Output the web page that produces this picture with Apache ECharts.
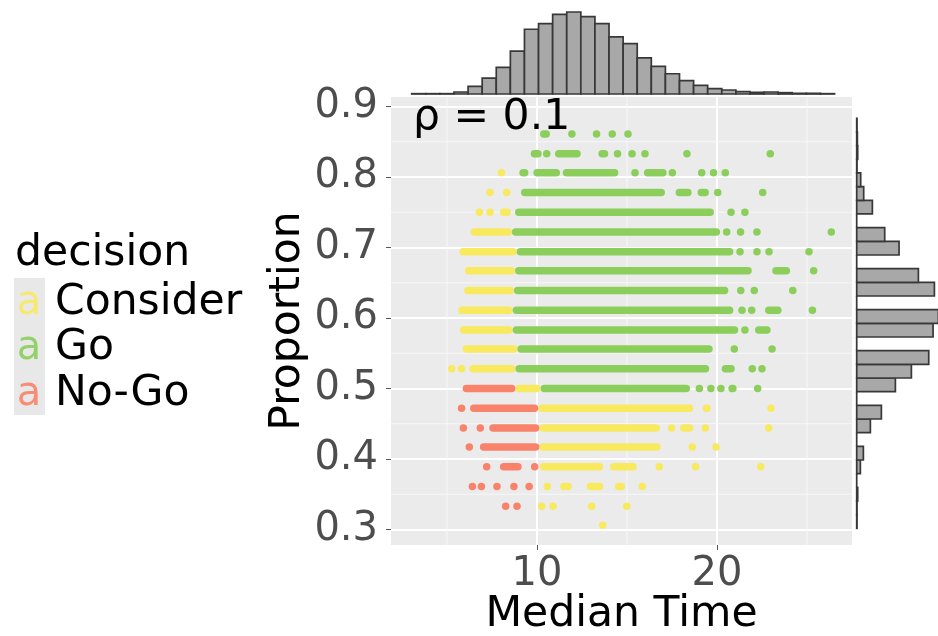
<!DOCTYPE html>
<html><head><meta charset="utf-8">
<style>html,body{margin:0;padding:0;background:#fff}#c{width:938px;height:636px}</style>
<script src="https://cdn.jsdelivr.net/npm/echarts@6/dist/echarts.min.js"></script>
</head><body><div id="c"></div>
<script>
const decisions = ['Consider', 'Go', 'No-Go'];
const colors = ['#f8e95f', '#8bce5b', '#f9836a'];
const xTicks = [10, 20];
const xMinor = [5, 15, 25];
const yTicks = [0.3, 0.4, 0.5, 0.6, 0.7, 0.8, 0.9];
const yMinor = [0.35, 0.45, 0.55, 0.65, 0.75, 0.85];

// runs: [proportion, median time from, median time to]
const goRuns = [
 [.861,10.17,10.72],[.861,14.85,15.26],
 [.833,9.65,10.26],[.833,11.0,12.43],[.833,13.41,13.96],[.833,14.28,14.67],
 [.806,9.02,9.52],[.806,9.80,11.28],[.806,11.43,14.52],[.806,15.26,15.63],[.806,15.94,17.2],
 [.778,9.11,17.11],[.778,17.70,18.59],[.778,18.92,19.55],
 [.75,8.78,19.83],[.722,8.61,20.17],[.694,8.87,20.91],
 [.667,8.78,21.93],[.667,23.07,24.06],
 [.639,8.72,20.63],[.639,21.18,21.46],[.639,24.09,24.33],
 [.611,8.65,20.91],[.611,22.67,23.59],
 [.583,8.65,21.18],[.583,22.11,22.98],
 [.556,8.91,19.76],
 [.528,8.8,19.57],[.528,20.26,20.99],
 [.5,10.2,18.5],[.5,19.52,19.8],[.5,20.63,21.09]
];
const goPoints = [
 [.861,11.94],[.861,13.31],[.861,14.18],
 [.833,10.54],[.833,15.28],[.833,16.0],[.833,18.33],[.833,22.96],
 [.806,17.52],[.806,19.15],[.806,19.81],[.806,20.46],
 [.778,20.04],[.778,22.54],
 [.75,20.78],[.75,21.55],
 [.722,20.54],[.722,21.31],[.722,22.22],[.722,26.35],
 [.694,21.28],[.694,22.22],[.694,22.89],[.694,25.11],
 [.667,25.37],
 [.639,22.07],
 [.611,21.39],[.611,21.93],[.611,25.3],
 [.583,21.55],
 [.556,20.96],[.556,23.06],
 [.528,21.96],[.528,22.5],
 [.5,19.02],[.5,20.22],[.5,22.26]
];
const considerRuns = [
 [.778,8.13,8.5],[.75,7.94,8.54],[.722,6.31,8.61],[.694,5.69,8.87],[.667,6.0,8.78],
 [.639,5.96,8.72],[.611,5.63,8.65],[.583,5.72,8.65],[.556,5.87,8.91],[.528,6.24,8.8],
 [.5,8.8,10.2],
 [.472,10.07,18.68],[.472,19.2,19.65],
 [.444,10.13,16.83],[.444,17.39,17.57],[.444,17.94,18.68],
 [.417,10.13,16.87],
 [.389,10.17,13.68],[.389,14.06,15.54],[.389,16.65,16.93],
 [.361,11.28,11.93],[.361,12.76,13.68],[.361,14.33,14.89],
 [.333,10.72,11.06],[.333,12.85,13.22],[.333,14.8,15.17]
];
const considerPoints = [
 [.806,8.02],[.778,7.39],[.75,6.8],[.75,7.39],[.528,5.26],[.528,5.81],
 [.472,23.0],[.444,19.35],[.444,22.87],[.417,18.63],[.417,19.94],
 [.389,18.81],[.389,22.43],[.361,10.57],[.361,15.85],[.333,10.26],[.306,13.65]
];
const noGoRuns = [
 [.5,5.87,8.8],[.472,6.28,10.07],[.444,6.68,7.02],[.444,7.35,10.13],[.417,6.83,10.13],
 [.389,7.02,7.39],[.389,7.94,9.15],[.361,7.57,7.98],[.361,9.43,9.7]
];
const noGoPoints = [
 [.472,5.81],[.444,5.91],[.417,6.24],[.389,9.87],
 [.361,6.41],[.361,6.91],[.361,8.72],[.333,8.26],[.333,8.89]
];

const timeBinStart = 3.04, timeBinWidth = 0.783;
const timeCounts = [1,1,1,6,23,48,80,129,195,212,240,247,233,212,172,152,109,83,61,40,26,16,12,7,5,6,4,2,2,1];
const propBinStart = 0.3016, propBinWidth = 0.01939;
const propCounts = [1,1,3,0,11,20,0,41,74,0,116,164,216,0,229,245,0,233,185,0,127,84,0,47,21,12,1,3,2,1];

const xMin = 1.89, xMax = 27.5, yMin = 0.278, yMax = 0.9135;
const FONT = '"DejaVu Sans"';
const DOT = 7.5;

function runSeries(runs, color) {
  return { type:'custom', xAxisIndex:0, yAxisIndex:0, silent:true, z:3, clip:false,
    data: runs, encode:{x:[1,2], y:0},
    renderItem(p, api) {
      const a = api.coord([api.value(1), api.value(0)]);
      const b = api.coord([api.value(2), api.value(0)]);
      // the ends of a run are the outer edges of its first and last dots
      const inset = Math.min(DOT / 2, (b[0] - a[0]) / 2 - 0.01);
      return { type:'line', shape:{x1:a[0]+inset,y1:a[1],x2:b[0]-inset,y2:b[1]},
        style:{stroke:color, lineWidth:DOT, lineCap:'round', fill:null} };
    } };
}
function pointSeries(pts, color) {
  return { type:'scatter', xAxisIndex:0, yAxisIndex:0, silent:true, z:3,
    data: pts.map(d => [d[1], d[0]]), symbolSize:DOT, itemStyle:{color:color, opacity:1} };
}
function minorSeries() {
  const data = xMinor.map(v => [v, yMin, v, yMax]).concat(yMinor.map(v => [xMin, v, xMax, v]));
  return { type:'custom', xAxisIndex:0, yAxisIndex:0, silent:true, z:1, data, encode:{x:[0,2], y:[1,3]},
    renderItem(p, api) {
      const a = api.coord([api.value(0), api.value(1)]);
      const b = api.coord([api.value(2), api.value(3)]);
      return { type:'line', shape:{x1:a[0],y1:a[1],x2:b[0],y2:b[1]}, style:{stroke:'#f7f7f7', lineWidth:1, fill:null} };
    } };
}
const barStyle = { fill:'#a8a8a8', stroke:'#383838', lineWidth:1.7 };
const topSeries = { type:'custom', xAxisIndex:1, yAxisIndex:1, silent:true, clip:false,
  data: timeCounts.map((c,i) => [timeBinStart+i*timeBinWidth, timeBinStart+(i+1)*timeBinWidth, c]),
  encode:{x:[0,1], y:2},
  renderItem(p, api) {
    const a = api.coord([api.value(0), api.value(2)]);
    const b = api.coord([api.value(1), 0]);
    return { type:'rect', shape:{x:a[0],y:a[1],width:b[0]-a[0],height:b[1]-a[1]}, style:barStyle };
  } };
const rightSeries = { type:'custom', xAxisIndex:2, yAxisIndex:2, silent:true, clip:false,
  data: propCounts.map((c,i) => [c, propBinStart+i*propBinWidth, propBinStart+(i+1)*propBinWidth]),
  encode:{x:0, y:[1,2]},
  renderItem(p, api) {
    const a = api.coord([0, api.value(2)]);
    const b = api.coord([api.value(0), api.value(1)]);
    return { type:'rect', shape:{x:a[0],y:a[1],width:b[0]-a[0],height:b[1]-a[1]}, style:barStyle };
  } };

const tickLabel = { fontFamily:FONT, fontSize:40, color:'#4d4d4d' };
const legendRows = [303, 348, 394];
const legendGraphic = [
  { type:'rect', left:14, top:278, shape:{width:31,height:137}, style:{fill:'#e8e8e8'}, z:5 },
  { type:'text', left:15, top:232, style:{text:'decision', font:'42.5px '+FONT, fill:'#000'}, z:5 }
];
decisions.forEach((d,i) => {
  legendGraphic.push({ type:'text', x:29, y:legendRows[i]+1, z:6,
    style:{text:'a', font:'40px '+FONT, fill:colors[i], opacity:.9, align:'center', verticalAlign:'middle'} });
  legendGraphic.push({ type:'text', x:55, y:legendRows[i], z:6,
    style:{text:d, font:'42.5px '+FONT, fill:'#000', align:'left', verticalAlign:'middle'} });
});
legendGraphic.push({ type:'text', x:413, y:118, z:10,
  style:{text:'ρ = 0.1', font:'42.5px '+FONT, fill:'#000', align:'left', verticalAlign:'middle'} });

const chart = echarts.init(document.getElementById('c'), null, {renderer:'canvas'});
chart.setOption({
  animation:false,
  backgroundColor:'#fff',
  grid:[
    { left:391, top:97, width:461, height:448, show:true, backgroundColor:'#ebebeb', borderWidth:0, containLabel:false, outerBoundsMode:'none' },
    { left:391, top:12, width:461, height:82, outerBoundsMode:'none' },
    { left:856.7, top:97, width:81.7, height:448, outerBoundsMode:'none' }
  ],
  xAxis:[
    { gridIndex:0, type:'value', min:xMin, max:xMax, name:'Median Time', nameLocation:'middle', nameGap:48.5, nameMoveOverlap:false,
      nameTextStyle:{fontFamily:FONT, fontSize:42.5, color:'#000'},
      axisLine:{show:false},
      axisTick:{show:true, length:5, customValues:xTicks, lineStyle:{color:'#555',width:1}},
      axisLabel:{...tickLabel, margin:10, customValues:xTicks, showMinLabel:true, showMaxLabel:true},
      splitLine:{show:true, lineStyle:{color:'#fff', width:2}} },
    { gridIndex:1, type:'value', min:xMin, max:xMax, show:false, splitLine:{show:false} },
    { gridIndex:2, type:'value', min:0, max:245, show:false, splitLine:{show:false} }
  ],
  yAxis:[
    { gridIndex:0, type:'value', min:yMin, max:yMax, name:'Proportion', nameLocation:'middle', nameGap:82, nameRotate:90, nameMoveOverlap:false,
      nameTextStyle:{fontFamily:FONT, fontSize:42.5, color:'#000'},
      axisLine:{show:false},
      axisTick:{show:true, length:5, customValues:yTicks, lineStyle:{color:'#555',width:1}},
      axisLabel:{...tickLabel, margin:13, padding:[4,0,0,0], customValues:yTicks, formatter:v => v.toFixed(1), showMinLabel:true, showMaxLabel:true},
      splitLine:{show:true, lineStyle:{color:'#fff', width:2}} },
    { gridIndex:1, type:'value', min:0, max:247, show:false, splitLine:{show:false} },
    { gridIndex:2, type:'value', min:yMin, max:yMax, show:false, splitLine:{show:false} }
  ],
  series:[
    minorSeries(),
    runSeries(considerRuns, colors[0]),
    pointSeries(considerPoints, colors[0]),
    runSeries(noGoRuns, colors[2]),
    pointSeries(noGoPoints, colors[2]),
    runSeries(goRuns, colors[1]),
    pointSeries(goPoints, colors[1]),
    topSeries,
    rightSeries
  ],
  graphic: legendGraphic
});
</script></body></html>
